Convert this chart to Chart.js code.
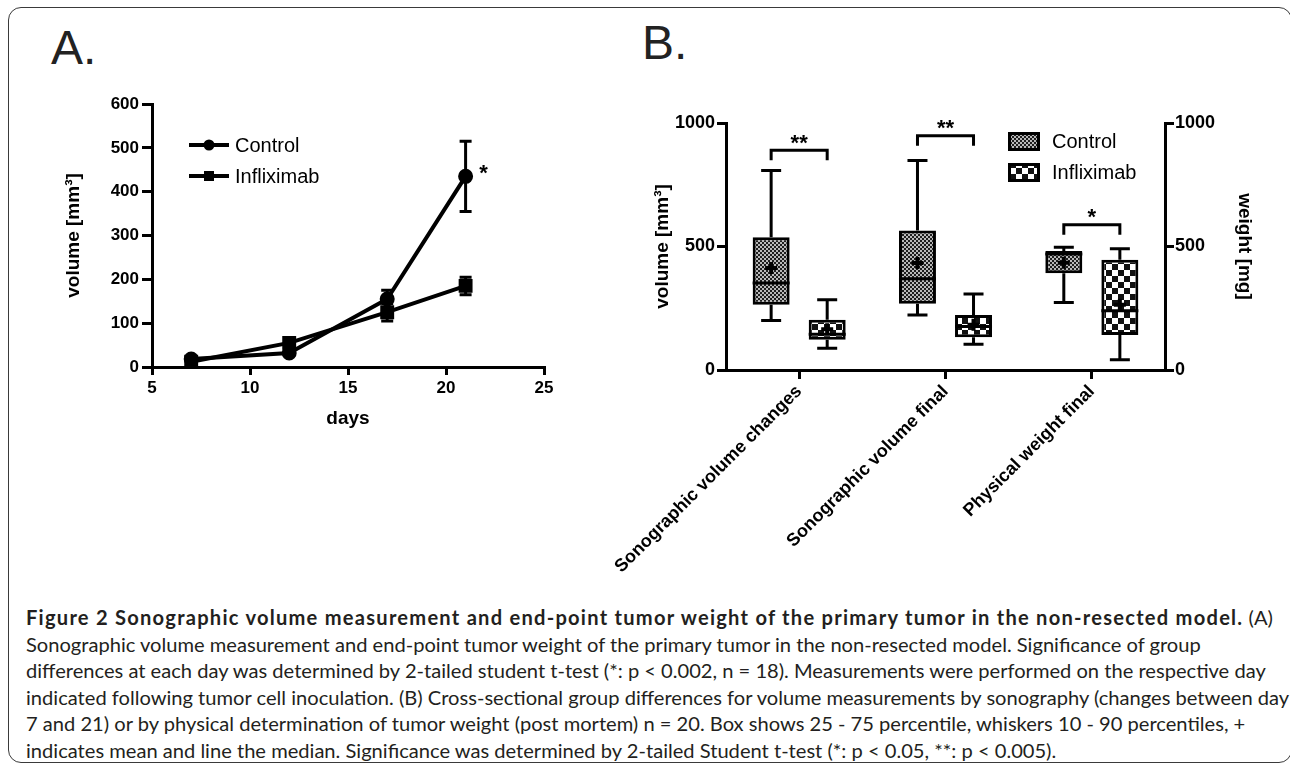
<!DOCTYPE html>
<html>
<head>
<meta charset="utf-8">
<script src="https://cdn.jsdelivr.net/npm/chart.js@4.4.0/dist/chart.umd.min.js"></script>
<style>
  body { margin: 0; width: 1290px; height: 767px; background: #fff; position: relative; overflow: hidden; }
  #frame { position: absolute; left: 8px; top: 7px; width: 1284px; height: 756px; box-sizing: border-box;
           border: 1.5px solid #3a3a3a; border-radius: 13px; }
  .panel { position: absolute; font-family: 'Liberation Sans', Arial, sans-serif; font-size: 48px; line-height: 48px; color: #222; }
  canvas { position: absolute; top: 0; }
  #caption { position: absolute; left: 26px; top: 604px; font-family: Lato, 'Open Sans', sans-serif; color: #231f20; white-space: nowrap; }
  #caption div { line-height: 26.6px; }
</style>
</head>
<body>
<div id="frame"></div>
<div class="panel" style="left:51px; top:24px;">A.</div>
<div class="panel" style="left:642px; top:19px;">B.</div>
<canvas id="chartA" width="600" height="460" style="left:0"></canvas>
<canvas id="chartB" width="730" height="600" style="left:560px"></canvas>
<div id="caption">
  <div><b id="capBold">Figure 2 Sonographic volume measurement and end-point tumor weight of the primary tumor in the non-resected model.</b> (A)</div>
  <div id="capLine2">Sonographic volume measurement and end-point tumor weight of the primary tumor in the non-resected model. Significance of group</div>
  <div>differences at each day was determined by 2-tailed student t-test (*: p &lt; 0.002, n = 18). Measurements were performed on the respective day</div>
  <div>indicated following tumor cell inoculation. (B) Cross-sectional group differences for volume measurements by sonography (changes between day</div>
  <div>7 and 21) or by physical determination of tumor weight (post mortem) n = 20. Box shows 25 - 75 percentile, whiskers 10 - 90 percentiles, +</div>
  <div>indicates mean and line the median. Significance was determined by 2-tailed Student t-test (*: p &lt; 0.05, **: p &lt; 0.005).</div>
</div>
<script>
// ---- panel A: growth curves ----
const days = [7, 12, 17, 21];
const controlVolume = [18, 32, 155, 435];
const controlError = [5, 5, 20, 80];
const infliximabVolume = [12, 55, 125, 185];
const infliximabError = [4, 8, 20, 20];
const starA = { day: 21, value: 455, label: '*' };

// ---- panel B: box plots ----
const categories = ['Sonographic volume changes', 'Sonographic volume final', 'Physical weight final'];
const categoryAxis = ['y', 'y', 'y2'];
const controlLow = [200, 223, 273];
const controlQ1 = [264, 268, 392];
const controlMedian = [352, 369, 470];
const controlQ3 = [537, 565, 482];
const controlHigh = [808, 848, 497];
const controlMean = [413, 433, 434];
const infliximabLow = [88, 104, 41];
const infliximabQ1 = [122, 133, 142];
const infliximabMedian = [145, 176, 240];
const infliximabQ3 = [203, 223, 446];
const infliximabHigh = [284, 308, 491];
const infliximabMean = [165, 183, 264];
const sigLabels = ['**', '**', '*'];
const sigHeights = [890, 948, 588];

const FONT = "'Liberation Sans', Arial, sans-serif";
Chart.defaults.font.family = FONT;
Chart.defaults.color = '#000';

const axisGrid = { drawOnChartArea: false, drawTicks: true, color: '#000', lineWidth: 3 };
const axisBorder = { display: true, color: '#000', width: 3 };
const plainNumber = v => String(v);

function drawStar(ctx, text, x, yCenter, size) {
  ctx.save();
  ctx.fillStyle = '#000';
  ctx.font = 'bold ' + size + 'px ' + FONT;
  ctx.textAlign = 'center';
  ctx.textBaseline = 'alphabetic';
  ctx.fillText(text, x, yCenter + size * 0.57);
  ctx.restore();
}

// error bars, legend and star for panel A
const errorBars = {
  id: 'errorBars',
  afterDatasetsDraw(chart) {
    const ctx = chart.ctx, ys = chart.scales.y;
    ctx.save();
    ctx.strokeStyle = '#000';
    ctx.lineWidth = 3;
    chart.data.datasets.forEach((ds, d) => {
      chart.getDatasetMeta(d).data.forEach((pt, i) => {
        const v = ds.data[i].y, e = ds.err[i];
        const yTop = ys.getPixelForValue(v + e), yBot = ys.getPixelForValue(v - e);
        ctx.beginPath();
        ctx.moveTo(pt.x, yTop); ctx.lineTo(pt.x, yBot);
        ctx.moveTo(pt.x - 6, yTop); ctx.lineTo(pt.x + 6, yTop);
        ctx.moveTo(pt.x - 6, yBot); ctx.lineTo(pt.x + 6, yBot);
        ctx.stroke();
      });
    });
    ctx.restore();
  },
  afterDraw(chart) {
    const ctx = chart.ctx;
    chart.data.datasets.forEach((ds, i) => {
      const y = 145 + i * 31;
      ctx.save();
      ctx.strokeStyle = '#000';
      ctx.lineWidth = 4;
      ctx.beginPath(); ctx.moveTo(189, y); ctx.lineTo(229, y); ctx.stroke();
      ctx.fillStyle = '#000';
      if (ds.pointStyle === 'circle') {
        ctx.beginPath(); ctx.arc(209, y, 5.5, 0, Math.PI * 2); ctx.fill();
      } else {
        ctx.fillRect(204, y - 5, 10, 10);
      }
      ctx.font = '20px ' + FONT;
      ctx.textBaseline = 'middle';
      ctx.fillText(ds.label, 235, y + 1);
      ctx.restore();
    });
    drawStar(ctx, starA.label, chart.scales.x.getPixelForValue(starA.day) + 18,
             chart.scales.y.getPixelForValue(starA.value), 22);
  }
};

new Chart(document.getElementById('chartA'), {
  type: 'line',
  data: {
    datasets: [
      { label: 'Control', data: days.map((d, i) => ({ x: d, y: controlVolume[i] })), err: controlError,
        borderColor: '#000', backgroundColor: '#000', borderWidth: 4, pointStyle: 'circle', pointRadius: 5.5 },
      { label: 'Infliximab', data: days.map((d, i) => ({ x: d, y: infliximabVolume[i] })), err: infliximabError,
        borderColor: '#000', backgroundColor: '#000', borderWidth: 4, pointStyle: 'rect', pointRadius: 7 }
    ]
  },
  options: {
    responsive: false,
    animation: false,
    layout: { padding: { top: 104, right: 56, left: 0, bottom: 0 } },
    plugins: { legend: { display: false }, tooltip: { enabled: false } },
    scales: {
      x: {
        type: 'linear', min: 5, max: 25,
        ticks: { stepSize: 5, padding: 3, callback: plainNumber, font: { size: 17, weight: 'bold' } },
        grid: Object.assign({ tickLength: 8 }, axisGrid),
        border: axisBorder,
        title: { display: true, text: 'days', font: { size: 19, weight: 'bold' }, padding: { top: 0, bottom: 30 } },
        afterFit: s => { s.height = 93; }
      },
      y: {
        min: 0, max: 600,
        ticks: { stepSize: 100, padding: 3, callback: plainNumber, font: { size: 17, weight: 'bold' } },
        grid: Object.assign({ tickLength: 10 }, axisGrid),
        border: axisBorder,
        title: { display: true, text: 'volume [mm³]', font: { size: 19, weight: 'bold' }, padding: { top: 62, bottom: 0 } },
        afterFit: s => { s.width = 152; }
      }
    }
  },
  plugins: [errorBars]
});

// ---- fill patterns ----
function makePattern(size, cell, dark, light) {
  const c = document.createElement('canvas');
  c.width = c.height = size;
  const g = c.getContext('2d');
  g.fillStyle = light; g.fillRect(0, 0, size, size);
  g.fillStyle = dark;
  g.fillRect(0, 0, cell, cell);
  g.fillRect(cell, cell, cell, cell);
  return g.createPattern(c, 'repeat');
}
const ctxB = document.getElementById('chartB').getContext('2d');
const controlFill = makePattern(4, 2, '#1e1e1e', '#b8b8b8');
const infliximabFill = makePattern(12, 6, '#111', '#fff');

function boxData(q1, q3, axis) {
  return categories.map((c, i) => categoryAxis[i] === axis ? [q1[i], q3[i]] : null);
}
function boxSet(label, stack, axis, fill, q1, q3, low, median, high, mean) {
  return {
    label, stack, yAxisID: axis, data: boxData(q1, q3, axis),
    low, median, high, mean,
    backgroundColor: fill, borderColor: '#000', borderWidth: 3, borderSkipped: false,
    categoryPercentage: 0.766, barPercentage: 0.66
  };
}

const whiskers = {
  id: 'whiskers',
  afterDatasetsDraw(chart) {
    const ctx = chart.ctx;
    ctx.save();
    ctx.strokeStyle = '#000';
    chart.data.datasets.forEach((ds, d) => {
      const ys = chart.scales[ds.yAxisID];
      chart.getDatasetMeta(d).data.forEach((bar, i) => {
        if (!ds.data[i]) return;
        const x = bar.x, hw = bar.width / 2, cap = 10;
        const yHigh = ys.getPixelForValue(ds.high[i]), yLow = ys.getPixelForValue(ds.low[i]);
        const yQ3 = ys.getPixelForValue(ds.data[i][1]), yQ1 = ys.getPixelForValue(ds.data[i][0]);
        const yMed = ys.getPixelForValue(ds.median[i]), yMean = ys.getPixelForValue(ds.mean[i]);
        ctx.lineWidth = 3;
        ctx.beginPath();
        ctx.moveTo(x, yHigh); ctx.lineTo(x, yQ3);
        ctx.moveTo(x, yQ1); ctx.lineTo(x, yLow);
        ctx.moveTo(x - cap, yHigh); ctx.lineTo(x + cap, yHigh);
        ctx.moveTo(x - cap, yLow); ctx.lineTo(x + cap, yLow);
        ctx.moveTo(x - hw, yMed); ctx.lineTo(x + hw, yMed);
        ctx.stroke();
        ctx.lineWidth = 4;
        ctx.beginPath();
        ctx.moveTo(x - 6, yMean); ctx.lineTo(x + 6, yMean);
        ctx.moveTo(x, yMean - 6); ctx.lineTo(x, yMean + 6);
        ctx.stroke();
      });
    });
    ctx.restore();
  },
  afterDraw(chart) {
    const ctx = chart.ctx;
    // significance brackets
    categories.forEach((c, i) => {
      const axis = categoryAxis[i];
      const ys = chart.scales[axis];
      const ci = axis === 'y' ? 0 : 2;
      const xL = chart.getDatasetMeta(ci).data[i].x;
      const xR = chart.getDatasetMeta(ci + 1).data[i].x;
      const yTop = ys.getPixelForValue(sigHeights[i]);
      ctx.save();
      ctx.strokeStyle = '#000';
      ctx.lineWidth = 3;
      ctx.beginPath();
      ctx.moveTo(xL, yTop + 10); ctx.lineTo(xL, yTop); ctx.lineTo(xR, yTop); ctx.lineTo(xR, yTop + 10);
      ctx.stroke();
      ctx.restore();
      drawStar(ctx, sigLabels[i], (xL + xR) / 2, yTop - 13, 22);
    });
    // legend
    [['Control', controlFill], ['Infliximab', infliximabFill]].forEach(([name, fill], i) => {
      const y = 132 + i * 31;
      ctx.save();
      ctx.fillStyle = '#000';
      ctx.fillRect(448, y, 32, 19);
      ctx.fillStyle = fill;
      ctx.fillRect(451, y + 3, 26, 13);
      ctx.fillStyle = '#000';
      ctx.font = '20px ' + FONT;
      ctx.textBaseline = 'middle';
      ctx.fillText(name, 492, y + 10);
      ctx.restore();
    });
  }
};

new Chart(ctxB, {
  type: 'bar',
  data: {
    labels: categories,
    datasets: [
      boxSet('Control', 'control', 'y', controlFill, controlQ1, controlQ3, controlLow, controlMedian, controlHigh, controlMean),
      boxSet('Infliximab', 'infliximab', 'y', infliximabFill, infliximabQ1, infliximabQ3, infliximabLow, infliximabMedian, infliximabHigh, infliximabMean),
      boxSet('Control', 'control', 'y2', controlFill, controlQ1, controlQ3, controlLow, controlMedian, controlHigh, controlMean),
      boxSet('Infliximab', 'infliximab', 'y2', infliximabFill, infliximabQ1, infliximabQ3, infliximabLow, infliximabMedian, infliximabHigh, infliximabMean)
    ]
  },
  options: {
    responsive: false,
    animation: false,
    layout: { padding: { top: 123, right: 0, left: 0, bottom: 0 } },
    plugins: { legend: { display: false }, tooltip: { enabled: false } },
    scales: {
      x: {
        ticks: { minRotation: 45, maxRotation: 45, autoSkip: false, padding: 2, font: { size: 18, weight: 'bold' } },
        grid: Object.assign({ tickLength: 9, offset: false }, axisGrid),
        border: axisBorder,
        afterFit: s => { s.height = 230; }
      },
      y: {
        stacked: false, min: 0, max: 1000,
        ticks: { stepSize: 500, padding: 2, callback: plainNumber, font: { size: 18, weight: 'bold' } },
        grid: Object.assign({ tickLength: 9 }, axisGrid),
        border: axisBorder,
        title: { display: true, text: 'volume [mm³]', font: { size: 19, weight: 'bold' }, padding: { top: 91, bottom: 0 } },
        afterFit: s => { s.width = 166; }
      },
      y2: {
        position: 'right', stacked: false, min: 0, max: 1000,
        ticks: { stepSize: 500, padding: 1, callback: plainNumber, font: { size: 18, weight: 'bold' } },
        grid: Object.assign({ tickLength: 9 }, axisGrid),
        border: axisBorder,
        title: { display: true, text: 'weight [mg]', font: { size: 19, weight: 'bold' }, padding: { top: 34, bottom: 0 } },
        afterFit: s => { s.width = 125; }
      }
    }
  },
  plugins: [whiskers]
});

// caption font size fitted to the reference line widths
const mctx = document.createElement('canvas').getContext('2d');
mctx.font = '100px Lato';
const line2Width = mctx.measureText(document.getElementById('capLine2').textContent).width;
const capSize = 100 * 1178 / line2Width;
document.getElementById('caption').style.fontSize = capSize.toFixed(2) + 'px';
const boldEl = document.getElementById('capBold');
mctx.font = 'bold ' + capSize.toFixed(2) + 'px Lato';
const boldText = boldEl.textContent;
const boldNatural = mctx.measureText(boldText).width;
boldEl.style.letterSpacing = ((1220 - boldNatural) / boldText.length).toFixed(3) + 'px';
</script>
</body>
</html>
